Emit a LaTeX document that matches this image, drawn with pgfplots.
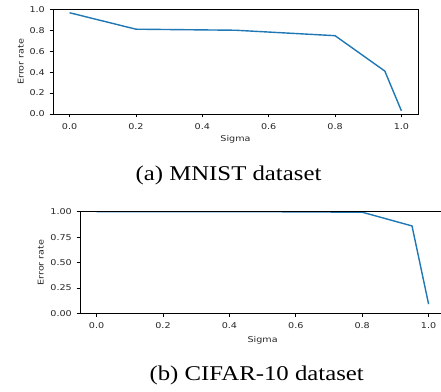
\documentclass[border=0pt]{standalone}
\usepackage{fontspec}
\usepackage{pgfplots}
\pgfplotsset{compat=1.18}
\newfontfamily\dv[FakeStretch=1.2]{DejaVu Sans}
\newfontfamily\tm[FakeStretch=1.18]{Liberation Serif}
\definecolor{mplblue}{HTML}{1F77B4}
\pgfplotsset{
  mystyle/.style={
    scale only axis,
    axis on top,
    axis line style={black, line width=0.8pt},
    tick align=outside,
    xtick pos=bottom, ytick pos=left,
    major tick length=3.5pt,
    every tick/.style={black, line width=0.8pt},
    tick label style={font=\dv\fontsize{8}{9}\selectfont, text=black!85, inner sep=0pt},
    label style={font=\dv\fontsize{8}{9}\selectfont, text=black!85, inner sep=0pt},
    /pgf/number format/assume math mode=true,
    xmin=-0.05, xmax=1.05, ymin=0, ymax=1,
    xtick={0,0.2,0.4,0.6,0.8,1.0},
    xticklabel style={anchor=north, yshift=-5.5pt},
    yticklabel style={anchor=east, xshift=-4.5pt},
    x tick label style={/pgf/number format/.cd, fixed, fixed zerofill, precision=1},
    xlabel={Sigma},
    ylabel={Error rate},
  }
}
\begin{document}
\begin{tikzpicture}
\useasboundingbox (0,0) rectangle (441pt,391pt);
\clip (0,0) rectangle (441pt,391pt);
\begin{axis}[mystyle,
  at={(53pt,277pt)}, anchor=south west,
  width=365pt, height=104.7pt,
  ytick={0,0.2,0.4,0.6,0.8,1.0},
  y tick label style={/pgf/number format/.cd, fixed, fixed zerofill, precision=1},
  xlabel style={at={(axis description cs:0.5,0)}, anchor=north, yshift=-21.5pt},
  ylabel style={at={(axis description cs:0,0.5)}, anchor=center, yshift=32.3pt},
]
\addplot[mplblue, line width=1.4pt] coordinates {
  (0,0.967) (0.2,0.81) (0.5,0.80) (0.8,0.748) (0.95,0.41) (1.0,0.03)
};
\end{axis}
\begin{axis}[mystyle,
  at={(80pt,77.7pt)}, anchor=south west,
  width=365.2pt, height=101.6pt,
  ytick={0,0.25,0.5,0.75,1.0},
  y tick label style={/pgf/number format/.cd, fixed, fixed zerofill, precision=2},
  xlabel style={at={(axis description cs:0.5,0)}, anchor=north, yshift=-23.4pt},
  ylabel style={at={(axis description cs:0,0.5)}, anchor=center, yshift=39.3pt},
]
\addplot[mplblue, line width=1.4pt] coordinates {
  (0,1.0) (0.2,1.0) (0.5,1.0) (0.8,0.995) (0.95,0.86) (1.0,0.09)
};
\end{axis}
\node[anchor=base, inner sep=0pt, font=\tm\fontsize{21}{24}\selectfont] at (228.5pt,210.3pt) {(a) MNIST dataset};
\node[anchor=base, inner sep=0pt, font=\tm\fontsize{21}{24}\selectfont] at (256.7pt,10.3pt) {(b) CIFAR-10 dataset};
\end{tikzpicture}
\end{document}
